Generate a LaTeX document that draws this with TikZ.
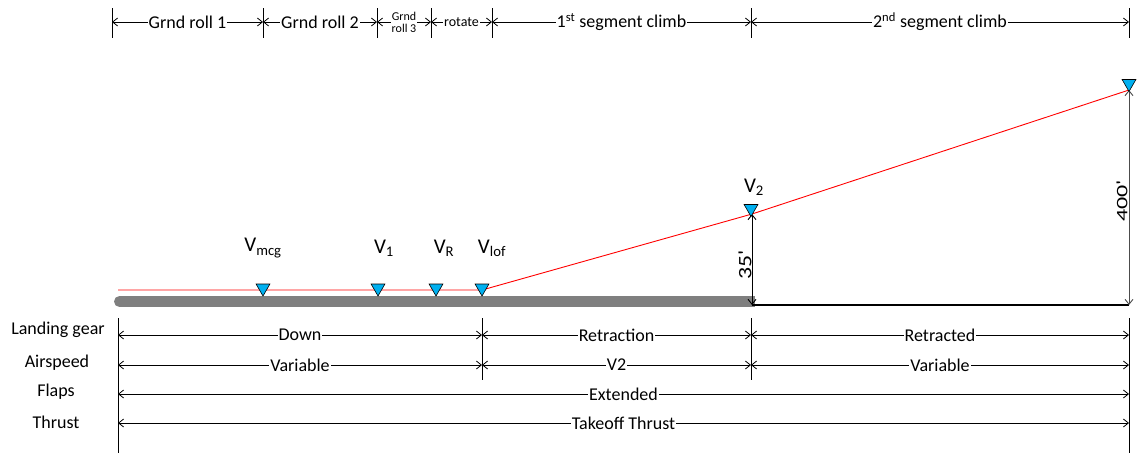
\documentclass[tikz,border=0pt]{standalone}
\usepackage{fontspec}
\setmainfont{Carlito}
\newfontfamily\plaincarlito{Carlito}
\usetikzlibrary{arrows.meta,shapes.geometric}
\definecolor{mkblue}{RGB}{0,176,240}
\definecolor{gnd}{RGB}{127,127,127}
\begin{document}
\begin{tikzpicture}[x=1pt,y=-1pt,
  dim/.style={{Straight Barb[length=5pt,width=8pt]}-{Straight Barb[length=5pt,width=8pt]},line width=0.8pt},
  tick/.style={line width=0.8pt},
  toplab/.style={fill=white,inner sep=1pt,font=\fontsize{18}{20}\selectfont},
  smalllab/.style={fill=white,inner sep=1pt,font=\fontsize{14}{15}\selectfont},
  tinylab/.style={fill=white,inner sep=1pt,align=center,font=\fontsize{12}{12}\selectfont},
  rowlab/.style={font=\fontsize{18}{20}\selectfont},
  vlab/.style={font=\fontsize{21}{22}\selectfont},
  hlab/.style={fill=white,inner sep=1pt,rotate=90},
  marker/.style={draw=black,fill=mkblue,line width=0.6pt,regular polygon,regular polygon sides=3,shape border rotate=180,minimum size=16pt,inner sep=0pt},
  redline/.style={red,line width=0.9pt}]
\useasboundingbox (0,0) rectangle (1139,453);
% ---- top dimension chain
\foreach \n/\x in {t0/112,t1/263,t2/377,t3/431,t4/492,t5/751,t6/1129}{
  \coordinate (\n) at (\x,22);
  \draw[tick] (\x,8) -- (\x,38);
}
\draw[dim] (t0) -- node[toplab] (l1) {Grnd roll 1} (t1);
\draw[dim] (t1) -- node[toplab] (l2) {Grnd roll 2} (t2);
\draw[dim] (t2) -- node[tinylab] (l3) {Grnd\\roll 3} (t3);
\draw[dim] (t3) -- node[smalllab] (l4) {rotate} (t4);
\draw[dim] (t4) -- node[toplab] (l5) {1\textsuperscript{st} segment climb} (t5);
\draw[dim] (t5) -- node[toplab] (l6) {2\textsuperscript{nd} segment climb} (t6);
% ---- ground
\draw[gnd,line width=11pt,line cap=round] (119.5,301.5) -- (745,301.5);
\fill[gnd] (740,296) rectangle (755,307);
\coordinate (g35) at (752,305);
\coordinate (g400) at (1129,305);
\draw[line width=1.8pt] (g35) -- (g400);
% ---- flight path
\coordinate (start) at (118,290);
\coordinate (lof) at (482,290);
\coordinate (p2) at (752,214);
\coordinate (p3) at (1129,90);
\draw[redline] (start) -- (lof) -- (p2) -- (p3);
% ---- height dimensions
\draw[dim,line width=0.9pt] (p2) -- (g35);
\node[hlab,font=\plaincarlito\fontsize{19}{20}\selectfont] (h35) at (745,265) {\scalebox{1.25}[1]{35'}};
\draw[dim,line width=0.9pt,black!70] (p3) -- (g400);
\node[hlab,font=\plaincarlito\fontsize{16}{17}\selectfont] (h400) at (1122,201) {\scalebox{1.5}[1]{400'}};
% ---- markers
\node[marker] (mVmcg) at (263,288) {};
\node[marker] (mV1) at (378,288) {};
\node[marker] (mVR) at (436,288) {};
\node[marker] (mVlof) at (482,288) {};
\node[marker] (mV2) at (751,208.5) {};
\node[marker] (m400) at (1129,83.5) {};
\node[vlab] (Vmcg) at (263,248) {V\textsubscript{mcg}};
\node[vlab] (V1) at (384,248) {V\textsubscript{1}};
\node[vlab] (VR) at (444,248) {V\textsubscript{R}};
\node[vlab] (Vlof) at (492,248) {V\textsubscript{lof}};
\node[vlab] (V2) at (754,187) {V\textsubscript{2}};
% ---- configuration rows
\draw[tick] (118,318) -- (118,453);
\draw[tick] (1129,318) -- (1129,453);
\draw[tick] (482,318) -- (482,380);
\draw[tick] (751,318) -- (751,380);
\node[rowlab] (rLG) at (58,330) {Landing gear};
\node[rowlab] (rAS) at (57,363) {Airspeed};
\node[rowlab] (rFL) at (56,392) {Flaps};
\node[rowlab] (rTH) at (56,422) {Thrust};
\foreach \n/\x in {a/118,b/482,c/751,d/1129}{
  \coordinate (lg\n) at (\x,335);
  \coordinate (as\n) at (\x,365);
}
\coordinate (fla) at (118,394); \coordinate (fld) at (1129,394);
\coordinate (tha) at (118,423); \coordinate (thd) at (1129,423);
\draw[dim] (lga) -- node[toplab] (d1) {Down} (lgb);
\draw[dim] (lgb) -- node[toplab] (d2) {Retraction} (lgc);
\draw[dim] (lgc) -- node[toplab] (d3) {Retracted} (lgd);
\draw[dim] (asa) -- node[toplab] (d4) {Variable} (asb);
\draw[dim] (asb) -- node[toplab] (d5) {V2} (asc);
\draw[dim] (asc) -- node[toplab] (d6) {Variable} (asd);
\draw[dim] (fla) -- node[toplab] (d7) {Extended} (fld);
\draw[dim] (tha) -- node[toplab] (d8) {Takeoff Thrust} (thd);
\end{tikzpicture}
\end{document}
